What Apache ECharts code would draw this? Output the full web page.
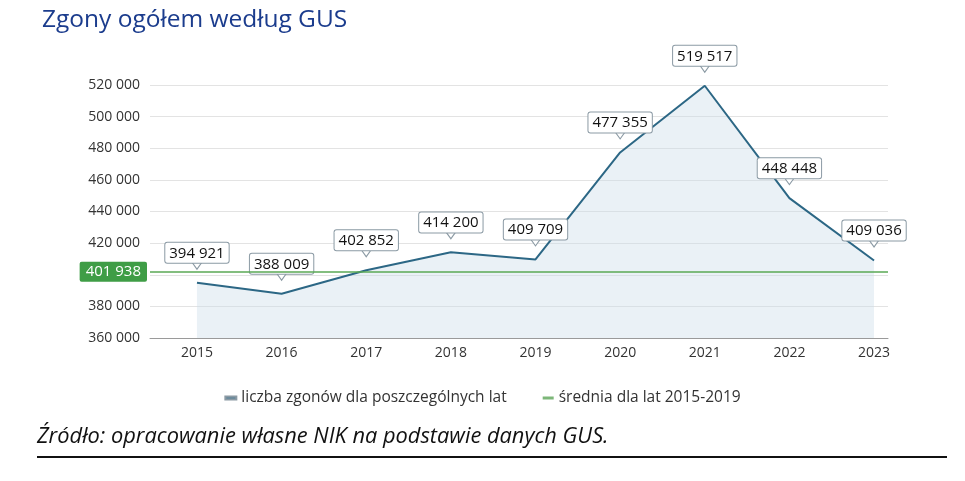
<!DOCTYPE html>
<html>
<head>
<meta charset="utf-8">
<script src="https://cdn.jsdelivr.net/npm/echarts@6/dist/echarts.min.js"></script>
<style>
html,body{margin:0;padding:0;background:#fff;}
#chart{width:965px;height:481px;}
</style>
</head>
<body>
<div id="chart"></div>
<script>
const years = [2015, 2016, 2017, 2018, 2019, 2020, 2021, 2022, 2023];
const deaths = [394921, 388009, 402852, 414200, 409709, 477355, 519517, 448448, 409036];
const average = 401938;
const yTicks = [360000, 380000, 400000, 420000, 440000, 460000, 480000, 500000, 520000];
const seriesNames = ['liczba zgonów dla poszczególnych lat', 'średnia dla lat 2015-2019'];
const titleText = 'Zgony ogółem według GUS';
const sourceText = 'Źródło: opracowanie własne NIK na podstawie danych GUS.';

const FONT = '"Open Sans", "Noto Sans", sans-serif';
const LINE_COLOR = '#2c6785';
const GREEN = '#3f9d46';
const fmt = v => String(Math.round(v)).replace(/\B(?=(\d{3})+(?!\d))/g, ' ');

const chart = echarts.init(document.getElementById('chart'), null, {renderer: 'canvas'});
chart.setOption({
  animation: false,
  backgroundColor: '#fff',
  title: {
    text: titleText, left: 37, top: 3,
    textStyle: {fontFamily: FONT, fontSize: 24.5, fontWeight: 'normal', color: '#1b3c8d'}
  },
  legend: {
    top: 385, left: 'center', itemGap: 36, itemWidth: 11, itemHeight: 3,
    textStyle: {fontFamily: FONT, fontSize: 15.5, color: '#333'},
    data: [
      {name: seriesNames[0], icon: 'rect', itemStyle: {color: '#4f7d95'}},
      {name: seriesNames[1], icon: 'rect', itemStyle: {color: '#7db779'}}
    ]
  },
  grid: {left: 150, right: 77, top: 85, bottom: 143},
  xAxis: {
    type: 'value',
    min: 2014.445, max: 2023.165,
    axisLine: {show: true, lineStyle: {color: '#9a9a9a', width: 1}},
    axisTick: {show: false},
    splitLine: {show: false},
    axisLabel: {
      customValues: years,
      formatter: v => String(v),
      fontFamily: FONT, fontSize: 14, color: '#333', margin: 8
    }
  },
  yAxis: {
    type: 'value',
    min: yTicks[0], max: yTicks[yTicks.length - 1], interval: 20000,
    axisLine: {show: false},
    axisTick: {show: false},
    splitLine: {lineStyle: {color: '#e3e3e3', width: 1}},
    axisLabel: {formatter: v => fmt(v), fontFamily: FONT, fontSize: 14, color: '#333', margin: 10}
  },
  series: [
    {
      name: seriesNames[0],
      type: 'line',
      data: years.map((y, i) => [y, deaths[i]]),
      lineStyle: {color: LINE_COLOR, width: 2},
      areaStyle: {color: 'rgba(200,219,232,0.55)', origin: 'start'},
      symbol: 'path://M0,0 L10,0 L5,7 Z',
      symbolSize: [10, 7],
      symbolOffset: [0, -17],
      showSymbol: true,
      itemStyle: {color: '#fff', borderColor: '#8b9aa4', borderWidth: 1},
      z: 3,
      label: {
        show: true, position: 'top', distance: -1,
        formatter: p => fmt(p.value[1]),
        fontFamily: FONT, fontSize: 15, color: '#111', lineHeight: 17,
        backgroundColor: '#fff', borderColor: '#8b9aa4', borderWidth: 1, borderRadius: 2,
        padding: [2, 4, 1, 4]
      },
      emphasis: {disabled: true}
    },
    {
      name: seriesNames[1],
      type: 'line',
      data: [],
      lineStyle: {color: GREEN},
      itemStyle: {color: GREEN},
      z: 4,
      markLine: {
        silent: true,
        symbol: 'none',
        lineStyle: {color: '#5aa955', width: 1.5, type: 'solid'},
        label: {
          show: true, position: 'start', distance: 3,
          formatter: () => fmt(average),
          fontFamily: FONT, fontSize: 15, color: '#fff', lineHeight: 17,
          backgroundColor: GREEN, borderRadius: 2, padding: [2, 6, 1, 6]
        },
        data: [{yAxis: average}]
      }
    }
  ],
  graphic: [
    {
      type: 'text', left: 37, top: 426,
      style: {text: sourceText, font: 'italic 21.8px "Open Sans", sans-serif', fill: '#111'}
    },
    {
      type: 'rect', shape: {x: 37, y: 456, width: 910, height: 2},
      style: {fill: '#111'}
    }
  ]
});
</script>
</body>
</html>
